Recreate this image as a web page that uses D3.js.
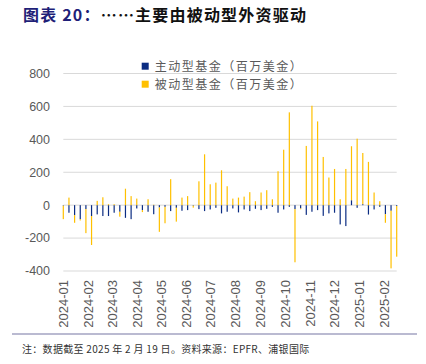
<!DOCTYPE html>
<html>
<head>
<meta charset="utf-8">
<script src="https://d3js.org/d3.v7.min.js"></script>
<style>
  body { margin: 0; background: #fff; }
  svg { display: block; }
</style>
</head>
<body>
<div id="chart"></div>
<script>
// weekly observations (Wednesdays) from 2024-01-03 to 2025-02-19
const weeks = d3.timeWednesday.range(new Date(2024, 0, 3), new Date(2025, 1, 20));

// 主动型基金 (百万美金)
const activeFlows = [
  -3, -46, -60, -85, -24, -66, -56, -66, -66, -46,
  -40, -77, -85, -20, -30, -40, -55, -14, -10, -36,
  -16, -34, -30, -3, -24, -36, -26, -16, -50, -40,
  -20, -44, -26, -36, -22, -30, -22, -10, -46, -26,
  -10, -24, -20, -59, -40, -30, -65, -50, -46, -117,
  -127, 30, -16, 6, -57, -26, -10, -55, -34, -5
];

// 被动型基金 (百万美金)
const passiveFlows = [
  -82, 46, -47, -8, -146, -176, 26, 48, 6, 6,
  -30, 100, 55, 40, -12, 36, 3, -148, -100, 158,
  -84, 46, 55, -12, 145, 309, 127, 137, 212, 115,
  40, 46, 52, 79, 24, 77, 91, 36, 206, 337,
  564, -323, -5, 360, 604, 509, 293, 168, 220, 36,
  220, 328, 404, 311, 263, 77, 24, -52, -350, -308
];

const seriesNames = ['主动型基金（百万美金）', '被动型基金（百万美金）'];
const seriesColors = ['#0B2C82', '#FFC000'];
const yTicks = [-400, -200, 0, 200, 400, 600, 800];

const width = 426;
const height = 364;
const plot = { left: 63.3, right: 396.7, top: 73.5, bottom: 271 };

const svg = d3.select('#chart')
  .append('svg')
  .attr('width', width)
  .attr('height', height);

// title
const title = svg.append('text')
  .attr('x', 23)
  .attr('y', 21)
  .style('font-family', '"Noto Sans CJK SC", sans-serif')
  .style('font-size', '16px')
  .style('font-weight', 'bold')
  .style('letter-spacing', '1.2px');
title.append('tspan').attr('fill', '#1F1F78').text('图表 20：');
title.append('tspan').attr('fill', '#111').text('……主要由被动型外资驱动');

// scales
const x = d3.scaleTime()
  .domain([weeks[0], weeks[weeks.length - 1]])
  .range([plot.left, plot.right]);

const y = d3.scaleLinear()
  .domain([-400, 800])
  .range([plot.bottom, plot.top]);

// gridlines
svg.append('g')
  .selectAll('line')
  .data(yTicks)
  .join('line')
  .attr('x1', plot.left)
  .attr('x2', plot.right)
  .attr('y1', d => y(d))
  .attr('y2', d => y(d))
  .attr('stroke', '#D9D9D9')
  .attr('stroke-width', 1);

// y labels
svg.append('g')
  .selectAll('text')
  .data(yTicks)
  .join('text')
  .attr('x', 50)
  .attr('y', d => y(d))
  .attr('dy', '0.35em')
  .attr('text-anchor', 'end')
  .attr('fill', '#595959')
  .style('font-family', '"Liberation Sans", Arial, sans-serif')
  .style('font-size', '12.5px')
  .text(d => d);

// stacked bars (diverging)
const rows = weeks.map((w, i) => ({ week: w, active: activeFlows[i], passive: passiveFlows[i] }));
const stack = d3.stack()
  .keys(['active', 'passive'])
  .offset(d3.stackOffsetDiverging);
const layers = stack(rows);

const barW = 1.2;
svg.append('g')
  .selectAll('g')
  .data(layers)
  .join('g')
  .attr('fill', (d, i) => seriesColors[i])
  .selectAll('rect')
  .data(d => d)
  .join('rect')
  .attr('x', d => x(d.data.week) - barW / 2)
  .attr('y', d => y(Math.max(d[0], d[1])))
  .attr('width', barW)
  .attr('height', d => Math.abs(y(d[0]) - y(d[1])));

// x month labels
const months = d3.timeMonth.range(new Date(2024, 0, 1), new Date(2025, 1, 2));
const fmt = d3.timeFormat('%Y-%m');
svg.append('g')
  .selectAll('text')
  .data(months)
  .join('text')
  .attr('transform', d => `translate(${x(d) + 2.2},280) rotate(-90)`)
  .attr('dy', '0.35em')
  .attr('text-anchor', 'end')
  .attr('fill', '#595959')
  .style('font-family', '"Liberation Sans", Arial, sans-serif')
  .style('font-size', '13px')
  .text(d => fmt(d));

// legend
const legend = svg.append('g')
  .selectAll('g')
  .data(seriesNames)
  .join('g')
  .attr('transform', (d, i) => `translate(141.7,${62.7 + i * 18})`);

legend.append('rect')
  .attr('width', 7)
  .attr('height', 7)
  .attr('fill', (d, i) => seriesColors[i]);

legend.append('text')
  .attr('x', 13)
  .attr('y', 3.6)
  .attr('dy', '0.35em')
  .attr('fill', '#595959')
  .style('font-family', '"Noto Sans CJK SC", sans-serif')
  .style('font-size', '12px')
  .style('letter-spacing', '1.5px')
  .text(d => d);

// footer rule and note
svg.append('line')
  .attr('x1', 12)
  .attr('x2', 417)
  .attr('y1', 334)
  .attr('y2', 334)
  .attr('stroke', '#A3A3C2')
  .attr('stroke-width', 1.5);

svg.append('text')
  .attr('x', 22)
  .attr('y', 349)
  .attr('dy', '0.35em')
  .attr('fill', '#333')
  .style('font-family', '"Noto Sans CJK SC", sans-serif')
  .style('font-size', '10px')
  .style('letter-spacing', '0.3px')
  .text('注：数据截至 2025 年 2 月 19 日。资料来源：EPFR、浦银国际');
</script>
</body>
</html>
